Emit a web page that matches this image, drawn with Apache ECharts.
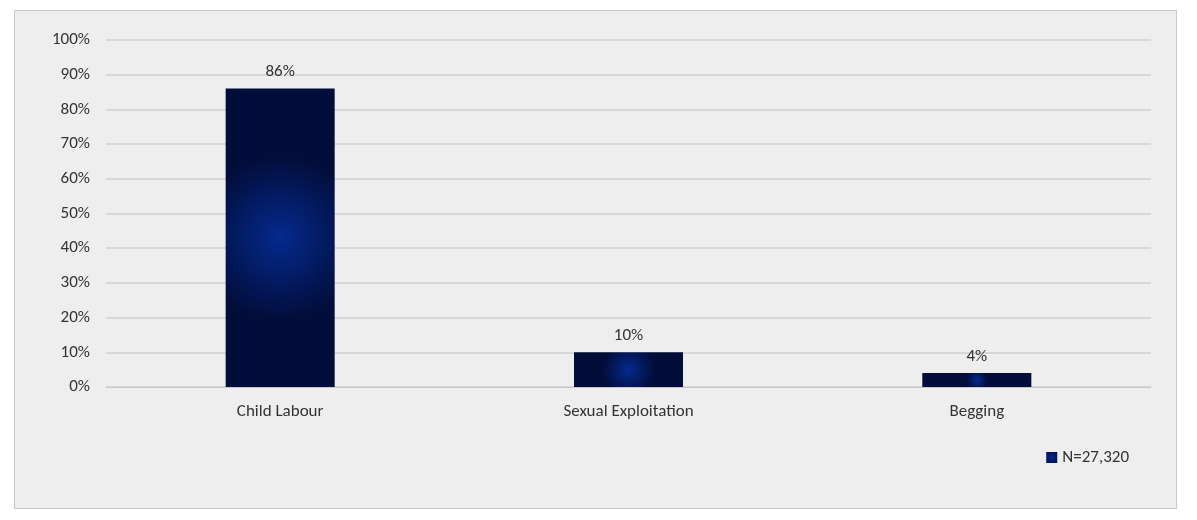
<!DOCTYPE html>
<html><head><meta charset="utf-8">
<script src="https://cdn.jsdelivr.net/npm/echarts@6/dist/echarts.min.js"></script>
<style>html,body{margin:0;padding:0;background:#fff}
#c{position:absolute;left:14px;top:10px;width:1161px;height:497px;border:1px solid #c8c8c8;background:#eeeeee}</style>
</head><body><div id="c"></div>
<script>
const categories = ["Child Labour", "Sexual Exploitation", "Begging"];
const values = [86, 10, 4];
const seriesName = "N=27,320";
const chart = echarts.init(document.getElementById('c'));
const ff = "Calibri, Carlito, 'Liberation Sans', 'Noto Sans', sans-serif";
chart.setOption({
  animation: false,
  textStyle: { fontFamily: ff },
  grid: { left: 91, right: 25, top: 29, bottom: 121 },
  legend: { right: 42, bottom: 37, itemWidth: 11, itemHeight: 11, icon: 'rect',
    textStyle: { fontSize: 17, color: '#333', fontFamily: ff }, data: [seriesName] },
  xAxis: { type: 'category', data: categories,
    axisLine: { lineStyle: { color: '#c8c8c8' } }, axisTick: { show: false },
    axisLabel: { fontSize: 17, color: '#333', margin: 16 } },
  yAxis: { type: 'value', min: 0, max: 100, interval: 10,
    axisLabel: { formatter: '{value}%', fontSize: 17, color: '#333', margin: 16 },
    splitLine: { lineStyle: { color: '#cfcfcf', width: 1.5 } } },
  series: [{ name: seriesName, type: 'bar', data: values, barWidth: 109,
    itemStyle: { color: { type: 'radial', x: 0.5, y: 0.5, r: 0.75,
      colorStops: [{ offset: 0, color: '#042a8e' }, { offset: 1, color: '#020d3a' }] } },
    label: { show: true, position: 'top', formatter: '{c}%', fontSize: 17, color: '#333', distance: 8 } }]
});
</script></body></html>
